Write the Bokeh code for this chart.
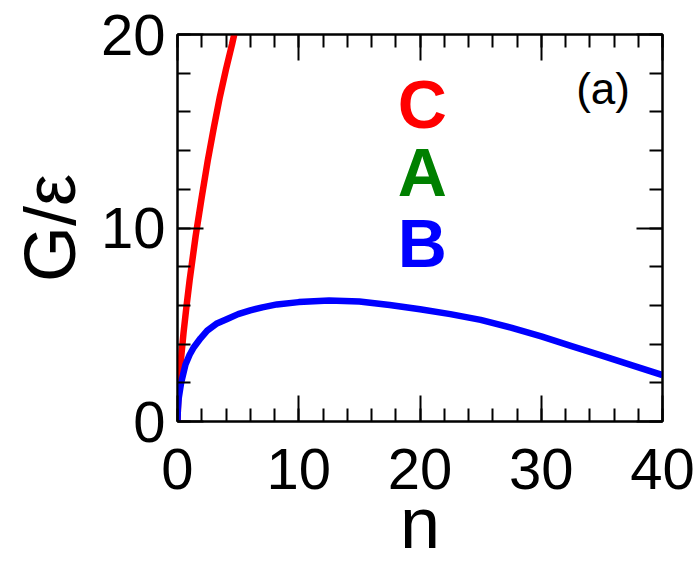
from bokeh.plotting import figure
from bokeh.models import LinearAxis, SingleIntervalTicker, Range1d, CustomJSTickFormatter
from bokeh.core.properties import value
from bokeh.embed import file_html
from bokeh.resources import INLINE

# Curve C (red): steep rise
n_c = [0, 0.05, 0.15, 0.3, 0.5, 0.75, 1.0, 1.5, 2.0, 2.5, 3.0, 3.5, 4.0, 4.5, 5.0]
g_c = [0, 1.0, 2.2, 3.3, 4.6, 6.0, 7.3, 9.6, 11.6, 13.5, 15.2, 16.8, 18.2, 19.5, 20.9]

# Curve B (blue): sharp rise, broad maximum, slow decline
n_b = [0, 0.03, 0.1, 0.3, 0.66, 1.0, 1.35, 1.9, 2.45, 3.2, 4.1, 5.0, 6.0, 7.0, 8.2,
       10, 12.5, 15, 17.5, 20, 22.5, 25, 27.5, 30, 32.5, 35, 37.5, 40]
g_b = [0, 0.6, 1.2, 2.0, 2.95, 3.45, 3.84, 4.3, 4.7, 5.05, 5.3, 5.55, 5.74, 5.9, 6.05,
       6.17, 6.25, 6.2, 6.02, 5.8, 5.55, 5.25, 4.85, 4.4, 3.9, 3.4, 2.9, 2.4]

x_ticks_interval = 10
y_ticks_interval = 10

FONT = "Liberation Sans"

p = figure(width=699, height=566, output_backend="svg", toolbar_location=None,
           x_range=Range1d(0, 40), y_range=Range1d(0, 20),
           min_border_left=177, min_border_right=37,
           min_border_top=34, min_border_bottom=145)
p.xgrid.visible = False
p.ygrid.visible = False
p.outline_line_color = "black"
p.outline_line_width = 2
p.background_fill_color = "white"
p.border_fill_color = "white"


def style_axis(ax, show_labels=True):
    ax.axis_line_width = 2
    ax.axis_line_color = "black"
    ax.major_tick_in = 26
    ax.major_tick_out = 0
    ax.minor_tick_in = 13
    ax.minor_tick_out = 0
    ax.major_tick_line_width = 2
    ax.minor_tick_line_width = 2
    ax.major_tick_line_color = "black"
    ax.minor_tick_line_color = "black"
    ax.major_label_text_font = FONT
    ax.major_label_text_font_size = "58px"
    ax.major_label_text_line_height = 1.0
    ax.major_label_text_color = "black"
    if not show_labels:
        ax.formatter = CustomJSTickFormatter(code="return ''")
        ax.major_label_standoff = 0


xt = SingleIntervalTicker(interval=x_ticks_interval, num_minor_ticks=5)
yt = SingleIntervalTicker(interval=y_ticks_interval, num_minor_ticks=5)

p.xaxis.ticker = xt
p.yaxis.ticker = yt
style_axis(p.xaxis[0])
style_axis(p.yaxis[0])
p.xaxis.major_label_standoff = 27
p.yaxis.major_label_standoff = 12

p.xaxis.axis_label = "n"
p.yaxis.axis_label = "G/ε"
for ax in (p.xaxis[0], p.yaxis[0]):
    ax.axis_label_text_font = FONT
    ax.axis_label_text_font_size = "72px"
    ax.axis_label_text_line_height = 1.0
    ax.axis_label_text_font_style = "normal"
    ax.axis_label_text_color = "black"
p.xaxis.axis_label_standoff = -9
p.yaxis.axis_label_standoff = 8

top = LinearAxis(ticker=SingleIntervalTicker(interval=x_ticks_interval, num_minor_ticks=5))
style_axis(top, show_labels=False)
p.add_layout(top, "above")
right = LinearAxis(ticker=SingleIntervalTicker(interval=y_ticks_interval, num_minor_ticks=5))
style_axis(right, show_labels=False)
p.add_layout(right, "right")

p.line(n_c, g_c, line_color="#ff0000", line_width=6.5)
p.line(n_b, g_b, line_color="#0000ff", line_width=6.5)

# Curve labels
p.text(x=[20.2], y=[16.4], text=["C"], text_color="#ff0000",
       text_font=value(FONT), text_font_style="bold", text_font_size="68px",
       text_align="center", text_baseline="alphabetic")
p.text(x=[20.2], y=[12.9], text=["A"], text_color="#008000",
       text_font=value(FONT), text_font_style="bold", text_font_size="68px",
       text_align="center", text_baseline="alphabetic")
p.text(x=[20.2], y=[9.25], text=["B"], text_color="#0000ff",
       text_font=value(FONT), text_font_style="bold", text_font_size="68px",
       text_align="center", text_baseline="alphabetic")

# Panel tag
p.text(x=[35.1], y=[17.2], text=["(a)"], text_color="black",
       text_font=value(FONT), text_font_size="44px",
       text_align="center", text_baseline="alphabetic")

open("out.html", "w").write(file_html(p, INLINE))
